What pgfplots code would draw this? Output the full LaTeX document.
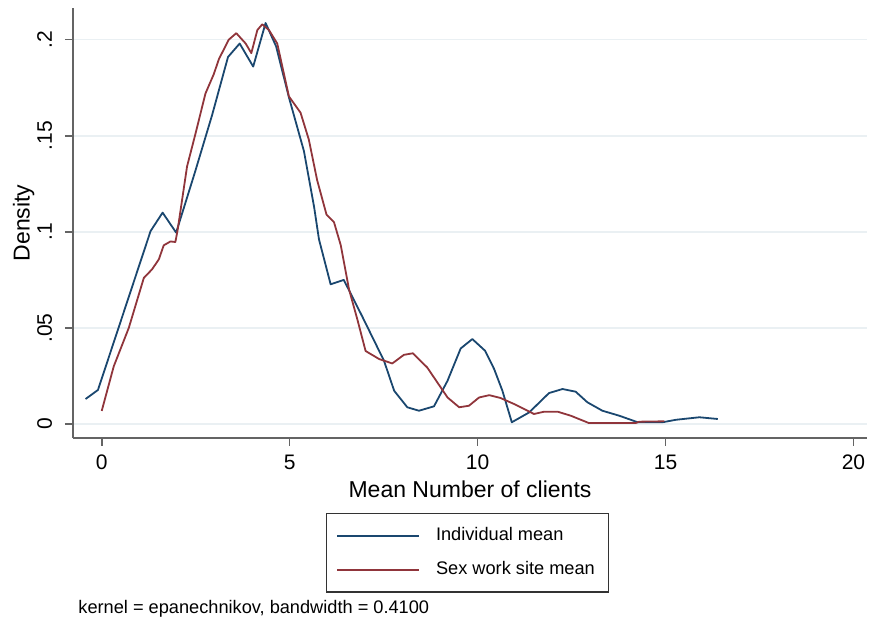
\documentclass[border=0pt]{standalone}
\usepackage{pgfplots}
\pgfplotsset{compat=1.18}
\usepackage{fontspec}
\setmainfont{Liberation Sans}
\definecolor{stnavy}{RGB}{26,71,111}
\definecolor{stmaroon}{RGB}{144,53,59}
\definecolor{stgrid}{RGB}{234,240,243}
\definecolor{staxis}{RGB}{100,100,100}

\pgfplotstableread{
x y
-0.43 0.013
-0.10 0.0177
1.30 0.1004
1.62 0.110
1.98 0.0996
2.48 0.131
2.94 0.161
3.36 0.191
3.67 0.198
4.03 0.186
4.36 0.2087
4.64 0.1965
4.98 0.170
5.38 0.142
5.65 0.113
5.78 0.0961
6.09 0.0727
6.44 0.075
6.93 0.056
7.51 0.0329
7.78 0.0173
8.13 0.0087
8.44 0.0069
8.84 0.0092
9.20 0.0225
9.55 0.0393
9.86 0.0442
10.20 0.0381
10.44 0.0286
10.66 0.0173
10.91 0.0009
11.37 0.006
11.90 0.0161
12.26 0.0182
12.61 0.0168
12.92 0.0113
13.32 0.0069
13.77 0.0043
14.26 0.0009
14.92 0.0009
15.28 0.0022
15.9 0.0035
16.39 0.0026
}\indiv

\pgfplotstableread{
x y
0.00 0.0068
0.32 0.030
0.72 0.050
1.12 0.076
1.34 0.0805
1.52 0.0857
1.65 0.093
1.83 0.095
1.96 0.0947
2.02 0.101
2.27 0.134
2.50 0.1515
2.76 0.172
2.98 0.182
3.12 0.190
3.38 0.200
3.58 0.2034
3.83 0.198
3.98 0.193
4.14 0.205
4.27 0.208
4.45 0.205
4.67 0.198
4.98 0.1705
5.29 0.162
5.51 0.148
5.73 0.127
5.98 0.109
6.18 0.105
6.36 0.093
6.58 0.070
6.80 0.0545
7.02 0.038
7.38 0.0338
7.73 0.0315
8.04 0.036
8.28 0.0368
8.66 0.0294
8.93 0.0216
9.20 0.0138
9.51 0.0087
9.77 0.0095
10.04 0.0138
10.31 0.015
10.60 0.0136
10.97 0.0104
11.24 0.0078
11.5 0.0052
11.77 0.0064
12.13 0.0064
12.48 0.0043
12.96 0.0005
14.21 0.0005
14.3 0.0012
14.97 0.0014
}\site

\begin{document}
\begin{tikzpicture}
\path[use as bounding box] (-36.5pt,-93pt) rectangle (398.5pt,219pt);
\begin{axis}[
  at={(0pt,0pt)}, anchor=south west,
  scale only axis, width=397pt, height=215pt,
  xmin=-0.764, xmax=20.36, ymin=-0.00729, ymax=0.2165,
  axis x line*=bottom, axis y line*=left,
  axis line style={draw=staxis, line width=0.8pt, -},
  xtick={0,5,10,15,20}, xticklabels={0,5,10,15,20},
  ytick={0,0.05,0.1,0.15,0.2}, yticklabels={0,.05,.1,.15,.2},
  tick align=outside, major tick length=4pt,
  tick style={draw=staxis, line width=0.8pt},
  ymajorgrids, grid style={draw=stgrid, line width=0.8pt},
  ticklabel style={font=\fontsize{10.5}{12}\selectfont},
  xticklabel style={yshift=-1pt},
  yticklabel style={rotate=90, anchor=base, yshift=6.5pt},
  xlabel={Mean Number of clients},
  ylabel={Density},
  label style={font=\fontsize{11.5}{13}\selectfont},
  xlabel style={at={(axis description cs:0.5,-0.1372)}, anchor=base},
  ylabel style={at={(axis description cs:-0.0545,0.5)}, anchor=base},
  legend style={at={(axis description cs:0.4969,-0.1744)}, anchor=north,
    draw=black!80, line width=0.6pt, font=\fontsize{9.1}{11}\selectfont,
    inner xsep=5pt, inner ysep=5pt, row sep=5pt,
    /tikz/every odd column/.append style={column sep=6pt}},
  legend cell align=left,
  legend image code/.code={\draw[#1] (0pt,0pt) -- (41pt,0pt);},
  clip=false,
]
\addplot[stnavy, line width=0.9pt, line join=round] table[x=x,y=y] {\indiv};
\addlegendentry{Individual mean}
\addplot[stmaroon, line width=0.9pt, line join=round] table[x=x,y=y] {\site};
\addlegendentry{Sex work site mean}
\end{axis}
\node[anchor=base west, font=\fontsize{9.1}{11}\selectfont, inner sep=0pt] at (2.5pt,-87.5pt) {kernel = epanechnikov, bandwidth = 0.4100};
\end{tikzpicture}
\end{document}
